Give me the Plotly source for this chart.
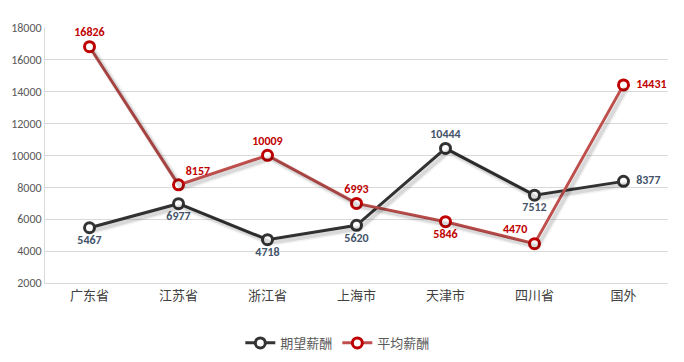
import plotly.graph_objects as go

categories = ["广东省", "江苏省", "浙江省", "上海市", "天津市", "四川省", "国外"]
expected = [5467, 6977, 4718, 5620, 10444, 7512, 8377]
average = [16826, 8157, 10009, 6993, 5846, 4470, 14431]
y_ticks = [2000, 4000, 6000, 8000, 10000, 12000, 14000, 16000, 18000]

exp_pos = ["bottom center", "bottom center", "bottom center", "bottom center", "top center", "bottom center", "middle right"]
avg_pos = ["top center", "top right", "top center", "top center", "bottom center", "top left", "middle right"]

font_cjk = "Carlito, 'Liberation Sans', 'Noto Sans CJK SC', sans-serif"
x_range = [-0.5, len(categories) - 0.5]
y_range = [2000, 18000]
# shadow offset (in axis units, ~3px right/down)
sx, sy = 0.035, 190

fig = go.Figure()
# soft shadows drawn on shifted overlay axes
for vals in (expected, average):
    for w, a in ((7, 0.05), (4, 0.10)):
        fig.add_trace(go.Scatter(
            x=categories, y=vals, mode="lines", xaxis="x2", yaxis="y2",
            line=dict(color=f"rgba(0,0,0,{a})", width=w),
            showlegend=False, hoverinfo="skip",
        ))

fig.add_trace(go.Scatter(
    x=categories, y=expected, name="期望薪酬", mode="lines+markers+text",
    line=dict(color="#333333", width=3),
    marker=dict(symbol="circle", size=10, color="white", line=dict(color="#333333", width=3)),
    text=["  " + str(v) if p == "middle right" else str(v) for v, p in zip(expected, exp_pos)],
    textposition=exp_pos, cliponaxis=False,
    textfont=dict(color="#44546A", size=12, family=font_cjk, weight="bold"),
))
fig.add_trace(go.Scatter(
    x=categories, y=average, name="平均薪酬", mode="lines+markers+text",
    line=dict(color="#C0504D", width=3),
    marker=dict(symbol="circle", size=10, color="white", line=dict(color="#C00000", width=3)),
    text=["  " + str(v) if p == "middle right" else str(v) for v, p in zip(average, avg_pos)],
    textposition=avg_pos, cliponaxis=False,
    textfont=dict(color="#C00000", size=12, family=font_cjk, weight="bold"),
))

fig.update_layout(
    width=684, height=362,
    margin=dict(l=45, r=16, t=28, b=79, autoexpand=False),
    paper_bgcolor="white", plot_bgcolor="white",
    font=dict(family=font_cjk, size=12, color="#595959"),
    showlegend=True,
    legend=dict(orientation="h", x=0.47, xanchor="center", y=-0.235, yanchor="middle",
                font=dict(size=13, color="#595959"), itemwidth=30, tracegroupgap=0),
    xaxis=dict(type="category", range=x_range, showgrid=False,
               showline=True, linecolor="#D9D9D9",
               ticks="", tickfont=dict(size=13, color="#404040")),
    yaxis=dict(range=y_range, tickvals=y_ticks, ticktext=[str(v) for v in y_ticks],
               showgrid=True, gridcolor="#D9D9D9",
               showline=True, linecolor="#D9D9D9", zeroline=False,
               tickfont=dict(size=12, color="#595959")),
    xaxis2=dict(type="category", overlaying="x", range=[x_range[0] - sx, x_range[1] - sx],
                visible=False),
    yaxis2=dict(overlaying="y", range=[y_range[0] + sy, y_range[1] + sy], visible=False),
)
fig.write_html("out.html", config={"displayModeBar": False})

with open("out.html", encoding="utf-8") as f:
    html = f.read()
html = html.replace("<body>", '<body style="margin:0;padding:0">', 1)
with open("out.html", "w", encoding="utf-8") as f:
    f.write(html)
